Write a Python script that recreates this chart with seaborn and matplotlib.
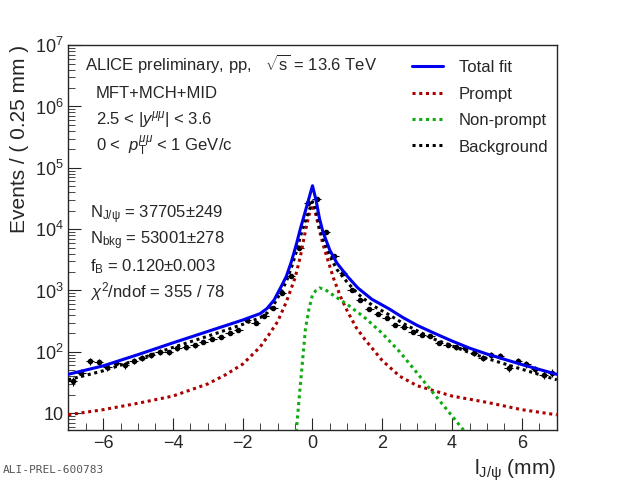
import numpy as np
import matplotlib
matplotlib.use("Agg")
import matplotlib.pyplot as plt
import seaborn as sns
from matplotlib.ticker import FixedLocator, LogLocator, NullFormatter

sns.set_style("ticks")
plt.rcParams['font.family'] = ['Liberation Sans', 'DejaVu Sans']
plt.rcParams['mathtext.fontset'] = 'custom'
plt.rcParams['mathtext.rm'] = 'Liberation Sans'
plt.rcParams['mathtext.it'] = 'Liberation Sans:italic'

# data points (bin centres, 0.25 mm bins)
data_x = [-6.875, -6.625, -6.375, -6.125, -5.875, -5.625, -5.375, -5.125, -4.875, -4.625,
          -4.375, -4.125, -3.875, -3.625, -3.375, -3.125, -2.875, -2.625, -2.375, -2.125,
          -1.875, -1.625, -1.375, -1.125, -0.875, -0.625, -0.375, -0.125, 0.125, 0.375,
          0.625, 0.875, 1.125, 1.375, 1.625, 1.875, 2.125, 2.375, 2.625, 2.875,
          3.125, 3.375, 3.625, 3.875, 4.125, 4.375, 4.625, 4.875, 5.125, 5.375,
          5.625, 5.875, 6.125, 6.375, 6.625, 6.875]
data_y = [33, 45, 70, 68, 56, 65, 60, 72, 80, 88,
          100, 98, 115, 120, 128, 145, 160, 175, 200, 230,
          330, 290, 380, 520, 900, 1700, 5000, 27000, 31000, 9000,
          3600, 1900, 1000, 700, 500, 420, 350, 270, 250, 210,
          190, 180, 140, 130, 120, 115, 95, 80, 90, 85,
          55, 70, 63, 52, 42, 46]

# fit curves
tot_x = [-7, -6, -5, -4, -3, -2, -1.5, -1.3, -1.1, -0.9, -0.75, -0.6, -0.45, -0.35, -0.2, -0.1, 0,
         0.1, 0.2, 0.3, 0.5, 0.7, 1.0, 1.3, 1.7, 2.2, 2.6, 3, 3.5, 4, 4.5, 5, 6, 7]
tot_y = [43, 59, 90, 140, 215, 330, 420, 510, 700, 1150, 1700, 3000, 6000, 10000, 20000, 32000, 51000,
         30000, 15000, 9000, 4500, 2800, 1700, 1100, 720, 500, 360, 270, 200, 150, 115, 92, 62, 43]
bkg_x = [-7, -6, -5, -4, -3, -2, -1.5, -1.3, -1.1, -0.9, -0.75, -0.6, -0.45, -0.35, -0.2, -0.1, 0,
         0.1, 0.2, 0.3, 0.5, 0.7, 1.0, 1.3, 1.7, 2.2, 2.6, 3, 3.5, 4, 4.5, 5, 6, 7]
bkg_y = [35, 49, 75, 118, 180, 280, 360, 430, 600, 950, 1400, 2400, 4500, 7500, 14000, 20000, 28000,
         20000, 11000, 7000, 3600, 2200, 1350, 880, 580, 400, 290, 220, 160, 125, 97, 78, 52, 35]
prompt_x = [-7, -6, -5, -4, -3, -2.5, -2, -1.5, -1.25, -1, -0.75, -0.5, -0.35, -0.2, -0.1, 0,
            0.1, 0.2, 0.3, 0.45, 0.6, 0.8, 1, 1.25, 1.5, 2, 2.5, 3, 4, 5, 6, 7]
prompt_y = [9.4, 11.4, 14.5, 19, 30, 42, 63, 120, 190, 310, 650, 1600, 3500, 9500, 17000, 25000,
            17000, 9500, 5700, 3000, 1600, 800, 460, 250, 160, 72, 40, 28, 19, 15, 11.4, 9.4]
nonprompt_x = [-0.5, -0.35, -0.2, -0.1, 0, 0.1, 0.2, 0.35, 0.5, 1, 1.5, 2, 2.5, 3, 3.5, 4, 4.5]
nonprompt_y = [3, 28, 240, 500, 850, 1000, 1100, 1050, 910, 590, 360, 200, 100, 45, 20, 9, 4]

fig = plt.figure(figsize=(6.2, 4.8), dpi=100)
ax = fig.add_axes([0.11, 0.104, 0.788, 0.802])

ax.errorbar(data_x, data_y, xerr=0.125, yerr=np.sqrt(data_y), fmt='o', color='black',
            ms=3, lw=0.8, capsize=0, zorder=3)
sns.lineplot(x=tot_x, y=tot_y, ax=ax, color='#0000ee', lw=2.2, zorder=5)
sns.lineplot(x=prompt_x, y=prompt_y, ax=ax, color='#aa0000', lw=2.2, linestyle=(0, (1, 1.2)), zorder=4)
sns.lineplot(x=nonprompt_x, y=nonprompt_y, ax=ax, color='#11aa11', lw=2.2, linestyle=(0, (1, 1.2)), zorder=4)
sns.lineplot(x=bkg_x, y=bkg_y, ax=ax, color='black', lw=2.2, linestyle=(0, (1, 1.2)), zorder=4)

ax.set_yscale('log')
ax.set_xlim(-7, 7)
ax.set_ylim(5.3, 1e7)
ax.yaxis.set_major_locator(FixedLocator([10, 1e2, 1e3, 1e4, 1e5, 1e6, 1e7]))
ax.set_yticklabels(['10', r'$10^2$', r'$10^3$', r'$10^4$', r'$10^5$', r'$10^6$', r'$10^7$'])
ax.yaxis.set_minor_locator(LogLocator(subs=np.arange(2, 10)))
ax.yaxis.set_minor_formatter(NullFormatter())
ax.set_xticks([-6, -4, -2, 0, 2, 4, 6])
ax.set_xticks(np.arange(-7, 7.01, 0.5), minor=True)
ax.tick_params(which='both', direction='in', labelsize=13, right=False, top=False)
ax.tick_params(which='major', length=9)
ax.tick_params(which='minor', length=5)
for s in ax.spines.values():
    s.set_linewidth(1.0)

ax.set_ylabel('Events / ( 0.25 mm )', fontsize=15, loc='top')
ax.set_xlabel(r'l$_{\mathrm{J/\psi}}$ (mm)', fontsize=15, loc='right')
ax.xaxis.set_label_coords(1.0, -0.07)

fig.text(0.137, 0.855, r'ALICE preliminary, pp,   $\sqrt{\mathrm{s}}$ = 13.6 TeV', fontsize=12)
fig.text(0.155, 0.795, 'MFT+MCH+MID', fontsize=12)
fig.text(0.155, 0.74, r'2.5 < |$y^{\mu\mu}$| < 3.6', fontsize=12)
fig.text(0.155, 0.685, r'0 <  $p_{\mathrm{T}}^{\mu\mu}$ < 1 GeV/c', fontsize=12)
fig.text(0.145, 0.545, r'N$_{\mathrm{J/\psi}}$ = 37705$\pm$249', fontsize=12)
fig.text(0.145, 0.49, r'N$_{\mathrm{bkg}}$ = 53001$\pm$278', fontsize=12)
fig.text(0.145, 0.435, r'f$_{\mathrm{B}}$ = 0.120$\pm$0.003', fontsize=12)
fig.text(0.145, 0.38, r'$\chi^2$/ndof = 355 / 78', fontsize=12)
fig.text(0.005, 0.015, 'ALI-PREL-600783', fontsize=8, color='#555555', family='DejaVu Sans Mono')

leg_items = [('Total fit', '#0000ee', '-'), ('Prompt', '#aa0000', (0, (1, 1.2))),
             ('Non-prompt', '#11aa11', (0, (1, 1.2))), ('Background', 'black', (0, (1, 1.2)))]
for i, (lab, c, ls) in enumerate(leg_items):
    yy = 0.857 - i * 0.055
    fig.add_artist(plt.Line2D([0.665, 0.715], [yy + 0.005, yy + 0.005], color=c, lw=2.2, ls=ls,
                              transform=fig.transFigure))
    fig.text(0.74, yy - 0.008, lab, fontsize=12)

fig.savefig('out.png', dpi=100)
